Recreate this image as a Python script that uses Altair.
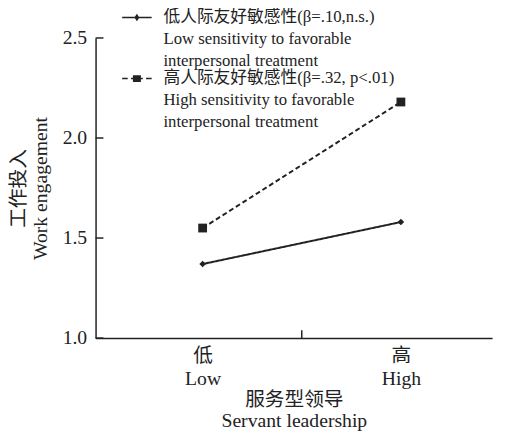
import altair as alt
import pandas as pd

# ---- data ----
x_levels = ["Low", "High"]
x_labels_cn = ["低", "高"]
x_pos = [1, 2]
series_ids = ["low", "high"]
low_sensitivity = [1.37, 1.58]
high_sensitivity = [1.55, 2.18]
y_ticks = [1.0, 1.5, 2.0, 2.5]
x_mid_tick = [1.5]
legend_low = ["低人际友好敏感性(β=.10,n.s.)", "Low sensitivity to favorable", "interpersonal treatment"]
legend_high = ["高人际友好敏感性(β=.32, p<.01)", "High sensitivity to favorable", "interpersonal treatment"]
y_title = ["工作投入", "Work engagement"]
x_title = ["服务型领导", "Servant leadership"]

FONT = "Liberation Serif, Noto Sans CJK SC"
INK = "#222222"

rows = []
for sid, vals in zip(series_ids, [low_sensitivity, high_sensitivity]):
    for lvl, xp, v in zip(x_levels, x_pos, vals):
        rows.append({"series": sid, "level": lvl, "xpos": xp, "value": v})
df = pd.DataFrame(rows)

def js_list(items):
    return "[" + ",".join("'" + s + "'" for s in items) + "]"

x_label_expr = (
    f"datum.value == {x_pos[0]} ? {js_list([x_labels_cn[0], x_levels[0]])} : "
    f"{js_list([x_labels_cn[1], x_levels[1]])}"
)

x_scale = alt.Scale(domain=[0.46, 2.46])
y_scale = alt.Scale(domain=[1.0, 2.5])

x_axis = alt.Axis(
    values=x_pos,
    labelExpr=x_label_expr,
    tickSize=0,
    ticks=False,
    grid=False,
    labelPadding=8,
    labelLineHeight=23,
    labelFont=FONT,
    labelFontSize=20,
    labelColor=INK,
    title=x_title,
    titleFont=FONT,
    titleFontSize=20,
    titleFontWeight="normal",
    titleColor=INK,
    titleLineHeight=21,
    titlePadding=2,
    domainColor=INK,
    domainWidth=1.5,
)
y_axis = alt.Axis(
    values=y_ticks,
    format=".1f",
    tickSize=0,
    ticks=False,
    grid=False,
    labelPadding=9,
    labelFont=FONT,
    labelFontSize=20,
    labelColor=INK,
    title=y_title,
    titleFont=FONT,
    titleFontSize=20,
    titleFontWeight="normal",
    titleColor=INK,
    titleLineHeight=22,
    titlePadding=12,
    domainColor=INK,
    domainWidth=1.5,
)

base = alt.Chart(df)

lines = base.mark_line(color=INK, strokeWidth=2).encode(
    x=alt.X("xpos:Q", scale=x_scale, axis=x_axis),
    y=alt.Y("value:Q", scale=y_scale, axis=y_axis),
    strokeDash=alt.StrokeDash(
        "series:N",
        scale=alt.Scale(domain=series_ids, range=[[1, 0], [5, 3]]),
        legend=None,
    ),
    detail="series:N",
)

points = base.mark_point(filled=True, color=INK, opacity=1).encode(
    x=alt.X("xpos:Q", scale=x_scale, axis=x_axis),
    y=alt.Y("value:Q", scale=y_scale, axis=y_axis),
    shape=alt.Shape(
        "series:N",
        scale=alt.Scale(domain=series_ids, range=["diamond", "square"]),
        legend=None,
    ),
    size=alt.Size(
        "series:N",
        scale=alt.Scale(domain=series_ids, range=[45, 80]),
        legend=None,
    ),
)

ytick_df = pd.DataFrame({"value": y_ticks})
yticks = alt.Chart(ytick_df).mark_rule(color=INK, strokeWidth=1.5).encode(
    y=alt.Y("value:Q", scale=y_scale, axis=y_axis),
    x=alt.value(0),
    x2=alt.value(8),
)

xtick_df = pd.DataFrame({"xpos": x_mid_tick})
xticks = alt.Chart(xtick_df).mark_rule(color=INK, strokeWidth=1.5).encode(
    x=alt.X("xpos:Q", scale=x_scale, axis=x_axis),
    y=alt.value(305),
    y2=alt.value(297),
)

# legend glyphs: filled shapes only (line pieces drawn as thin bars)
path_low = "M-1,0.5H1V0.6H-1Z M0,0.3L0.17,0.55L0,0.8L-0.17,0.55Z"
path_high = (
    "M-1,0.5H-0.62V0.6H-1Z M-0.4,0.5H0.4V0.6H-0.4Z M0.62,0.5H1V0.6H0.62Z "
    "M-0.27,0.32H0.27V0.78H-0.27Z"
)


def legend_for(sid, path, lines_text, legend_y):
    return (
        alt.Chart(pd.DataFrame({"series": [sid]}))
        .transform_filter("false")
        .mark_point(filled=True, color=INK, size=900)
        .encode(
            shape=alt.Shape(
                "series:N",
                scale=alt.Scale(domain=[sid], range=[path]),
                legend=alt.Legend(
                    title=None,
                    orient="none",
                    legendX=26,
                    legendY=legend_y,
                    padding=0,
                    labelExpr=js_list(lines_text),
                    labelFont=FONT,
                    labelFontSize=17,
                    labelColor=INK,
                    labelBaseline="top",
                    labelOffset=11,
                    labelLimit=500,
                    symbolSize=900,
                    symbolFillColor=INK,
                    symbolStrokeColor=INK,
                    symbolOpacity=1,
                ),
            )
        )
    )


legend_low_layer = legend_for(series_ids[0], path_low, legend_low, -45)
legend_high_layer = legend_for(series_ids[1], path_high, legend_high, 17)

chart = (
    alt.layer(lines, points, yticks, xticks, legend_low_layer, legend_high_layer)
    .resolve_scale(shape="independent", size="independent")
    .properties(
        width=403,
        height=305,
        padding={"left": 89, "top": 27, "right": 6, "bottom": 92},
        autosize=alt.AutoSizeParams(type="none"),
        background="white",
    )
    .configure(style={"guide-label": {"lineHeight": 22}})
    .configure_view(stroke=None)
)

chart.save("out.html", embed_options={"renderer": "svg", "actions": False})
